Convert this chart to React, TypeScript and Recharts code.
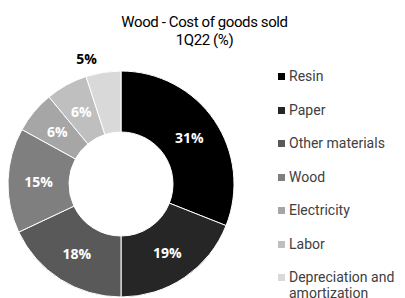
import React from "react";
import { PieChart, Pie, Cell, Legend } from "recharts";

const categories = ["Resin", "Paper", "Other materials", "Wood", "Electricity", "Labor", "Depreciation and amortization"];
const values = [31, 19, 18, 15, 6, 6, 5];
const colors = ["#000000", "#262626", "#595959", "#7f7f7f", "#a6a6a6", "#bfbfbf", "#d9d9d9"];
const titleLines = ["Wood - Cost of goods sold", "1Q22 (%)"];

const data = categories.map((name, i) => ({ name, value: values[i] }));
const RADIAN = Math.PI / 180;

const renderLabel = (props: any) => {
  const { cx, cy, midAngle, innerRadius, outerRadius, value, index } = props;
  const outside = value <= 5;
  const r = outside ? outerRadius + 16 : (innerRadius + outerRadius) / 2;
  const x = cx + r * Math.cos(-midAngle * RADIAN);
  const y = cy + r * Math.sin(-midAngle * RADIAN);
  return (
    <text
      key={`l-${index}`}
      x={outside ? x - 4 : x}
      y={outside ? y + 2 : y}
      fill={outside ? "#000000" : "#ffffff"}
      textAnchor={outside ? "end" : "middle"}
      dominantBaseline="central"
      fontFamily="'Open Sans', sans-serif"
      fontWeight={700}
      fontSize={14}
    >
      {`${value}%`}
    </text>
  );
};

const renderLegend = () => (
  <div style={{ fontFamily: "Roboto, sans-serif", fontSize: 14, color: "#404040" }}>
    {categories.map((c, i) => (
      <div key={c} style={{ display: "flex", alignItems: "flex-start", height: 33.5 }}>
        <div style={{ width: 7, height: 7, background: colors[i], marginTop: 5, marginRight: 4, flexShrink: 0 }} />
        <div style={{ width: 116, lineHeight: "16px" }}>{c}</div>
      </div>
    ))}
  </div>
);

export default function App() {
  return (
    <div style={{ position: "absolute", left: 0, top: 0, width: 405, height: 298, background: "#fff", overflow: "hidden" }}>
      <div
        style={{
          position: "absolute",
          left: 0,
          top: 13,
          width: 405,
          textAlign: "center",
          fontFamily: "Roboto, sans-serif",
          fontSize: 15,
          lineHeight: "18px",
          letterSpacing: -0.4,
          color: "#000",
          paddingLeft: 2,
        }}
      >
        {titleLines.map((t) => (
          <div key={t}>{t}</div>
        ))}
      </div>
      <PieChart width={405} height={298} margin={{ top: 0, right: 0, bottom: 0, left: 0 }} style={{ position: "absolute", left: 0, top: 0 }}>
        <Pie
          data={data}
          dataKey="value"
          nameKey="name"
          cx={121}
          cy={184}
          outerRadius={113}
          innerRadius={52}
          startAngle={90}
          endAngle={-270}
          stroke="#ffffff"
          strokeWidth={1}
          label={renderLabel}
          labelLine={false}
          isAnimationActive={false}
        >
          {data.map((d, i) => (
            <Cell key={d.name} fill={colors[i]} />
          ))}
        </Pie>
        <Legend
          content={renderLegend}
          layout="vertical"
          wrapperStyle={{ position: "absolute", left: 278, top: 68, width: 127 }}
        />
      </PieChart>
    </div>
  );
}
